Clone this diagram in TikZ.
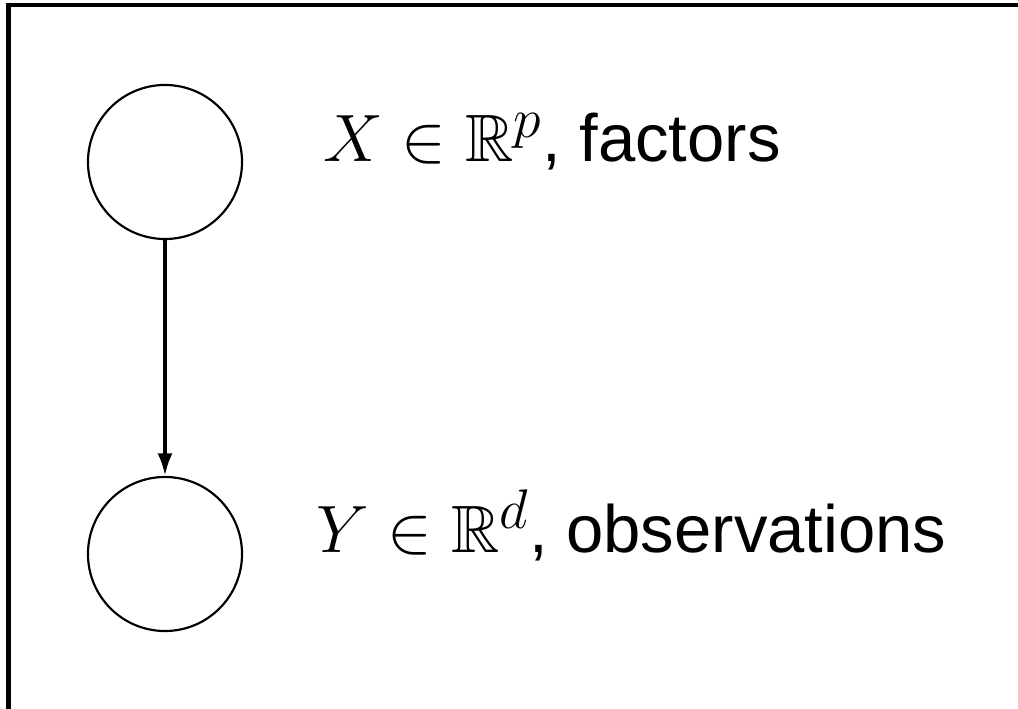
\documentclass[tikz,border=0pt]{standalone}
\usepackage{amssymb}
\usepackage{fontspec}
\setmainfont{Liberation Sans}
\usetikzlibrary{arrows.meta}

\begin{document}
\begin{tikzpicture}[
x=0.3713pt, y=-0.3713pt,
var/.style={
draw,
circle,
line width=0.8pt,
inner sep=0pt,
minimum size=57.2pt
},
lbl/.style={
anchor=base west,
inner sep=0pt,
font=\Huge
}
]

\useasboundingbox (0,0) rectangle (1018,709);
\clip (0,0) rectangle (1018,709);

% frame
\draw[line width=1.6pt] (1040,5) -- (8.5,5) -- (8.5,730);

\node[var] (X) at (165,162) {};
\node[var] (Y) at (165,554) {};

\node[lbl] (Xl) at (323,162) {$X \in \mathbb{R}^p$, factors};
\node[lbl] (Yl) at (316,553) {$Y \in \mathbb{R}^d$, observations};

\draw[line width=1.35pt, -{Latex[length=8.4pt,width=5.6pt]}] (X) -- (Y);

\end{tikzpicture}
\end{document}
